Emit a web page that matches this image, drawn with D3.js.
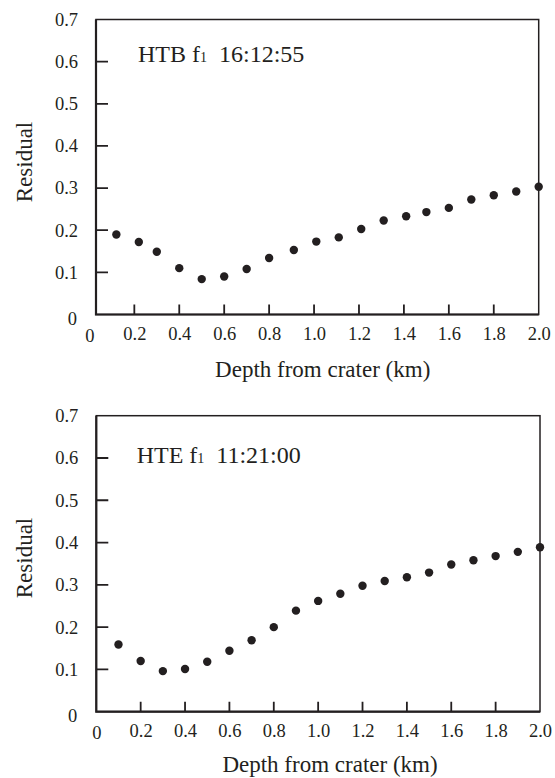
<!DOCTYPE html>
<html>
<head>
<meta charset="utf-8">
<script src="https://cdn.jsdelivr.net/npm/d3@7"></script>
<style>
  body { margin: 0; background: #fff; }
  text { font-family: "Liberation Serif", "Times New Roman", serif; fill: #231f20; }
</style>
</head>
<body>
<div id="chart"></div>
<script>
// Donnees
const depthHTB = [0.12, 0.22, 0.30, 0.40, 0.50, 0.60, 0.70, 0.80, 0.91, 1.01,
                  1.11, 1.21, 1.31, 1.41, 1.50, 1.60, 1.70, 1.80, 1.90, 2.00];
const residualHTB = [0.190, 0.172, 0.149, 0.110, 0.084, 0.090, 0.108, 0.134, 0.153, 0.173,
                     0.183, 0.203, 0.223, 0.233, 0.243, 0.253, 0.273, 0.283, 0.292, 0.303];

const depthHTE = [0.1, 0.2, 0.3, 0.4, 0.5, 0.6, 0.7, 0.8, 0.9, 1.0,
                  1.1, 1.2, 1.3, 1.4, 1.5, 1.6, 1.7, 1.8, 1.9, 2.0];
const residualHTE = [0.159, 0.120, 0.096, 0.101, 0.118, 0.144, 0.169, 0.200, 0.239, 0.262,
                     0.279, 0.298, 0.309, 0.318, 0.329, 0.348, 0.358, 0.368, 0.378, 0.389];

const xTicks = [0, 0.2, 0.4, 0.6, 0.8, 1.0, 1.2, 1.4, 1.6, 1.8, 2.0];
const yTicks = [0, 0.1, 0.2, 0.3, 0.4, 0.5, 0.6, 0.7];

const xLabel = "Depth from crater (km)";
const yLabel = "Residual";

const svg = d3.select("#chart")
    .append("svg")
    .attr("width", 555)
    .attr("height", 778);

const ink = "#231f20";

function drawPanel(depth, residual, station, time, box) {
    const x = d3.scaleLinear().domain([0, 2]).range([box.x0, box.x2]);
    const y = d3.scaleLinear().domain([0, 0.7]).range([box.bottom, box.top]);
    const g = svg.append("g");
    const fmt = d => d === 0 ? "0" : d3.format(".1f")(d);

    // Axe X (libelles)
    const ax = g.append("g")
        .attr("transform", `translate(0,${box.bottom})`)
        .call(d3.axisBottom(x).tickValues(xTicks).tickFormat(fmt)
            .tickSize(0).tickPadding(12));
    ax.attr("font-family", null).attr("font-size", null);
    ax.select(".domain").remove();
    ax.selectAll(".tick line").remove();
    ax.selectAll(".tick text").attr("font-size", 18.5)
        .filter(d => d === 0).attr("y", 14);

    // Axe Y (libelles)
    const ay = g.append("g")
        .attr("transform", `translate(${box.frameLeft},0)`)
        .call(d3.axisLeft(y).tickValues(yTicks).tickFormat(fmt)
            .tickSize(0).tickPadding(18));
    ay.attr("font-family", null).attr("font-size", null);
    ay.select(".domain").remove();
    ay.selectAll(".tick line").remove();
    ay.selectAll(".tick text").attr("font-size", 18.5)
        .filter(d => d === 0).attr("dy", "0.55em").attr("x", -19);

    // Graduations vers l'interieur
    const xt = xTicks.filter(d => d > 0 && d < 2);
    const yt = yTicks.filter(d => d > 0 && d < 0.7);
    g.append("path")
        .attr("d", xt.map(d => `M${x(d)},${box.bottom}v-10`).join("") +
                   yt.map(d => `M${box.frameLeft},${y(d)}h12`).join(""))
        .attr("fill", "none")
        .attr("stroke", ink)
        .attr("stroke-width", 1.8);

    // Cadre
    g.append("rect")
        .attr("x", box.frameLeft)
        .attr("y", box.top)
        .attr("width", x(2) - box.frameLeft)
        .attr("height", box.bottom - box.top)
        .attr("fill", "none")
        .attr("stroke", ink)
        .attr("stroke-width", 1.5);
    g.append("path")
        .attr("d", `M${box.frameLeft},${box.top}V${box.bottom}H${x(2)}`)
        .attr("fill", "none")
        .attr("stroke", ink)
        .attr("stroke-width", 2.2);

    // Points
    g.selectAll("circle")
        .data(depth.map((d, i) => ({ d: d, r: residual[i] })))
        .join("circle")
        .attr("cx", p => x(p.d))
        .attr("cy", p => y(p.r))
        .attr("r", 4.2)
        .attr("fill", ink);

    // Titre du panneau
    const t = g.append("text")
        .attr("x", box.titleX)
        .attr("y", box.titleY)
        .attr("font-size", 24);
    t.append("tspan").text(station + " f");
    t.append("tspan").attr("font-size", 14).text("1");
    t.append("tspan").attr("dx", 12).text(time);

    // Libelles des axes
    g.append("text")
        .attr("x", box.xLabelX)
        .attr("y", box.xLabelY)
        .attr("text-anchor", "middle")
        .attr("font-size", 23)
        .text(xLabel);
    g.append("text")
        .attr("transform", `translate(${box.yLabelX},${box.yLabelY}) rotate(-90)`)
        .attr("text-anchor", "middle")
        .attr("font-size", 23)
        .text(yLabel);
}

drawPanel(depthHTB, residualHTB, "HTB", "16:12:55", {
    top: 19.5, bottom: 314.5, x0: 89.4, x2: 538.7, frameLeft: 96,
    titleX: 138, titleY: 62,
    xLabelX: 322.7, xLabelY: 377,
    yLabelX: 31.5, yLabelY: 162
});

drawPanel(depthHTE, residualHTE, "HTE", "11:21:00", {
    top: 415.7, bottom: 711.7, x0: 96.3, x2: 540, frameLeft: 96.3,
    titleX: 136.7, titleY: 463.3,
    xLabelX: 330, xLabelY: 772,
    yLabelX: 31.5, yLabelY: 558
});
</script>
</body>
</html>
